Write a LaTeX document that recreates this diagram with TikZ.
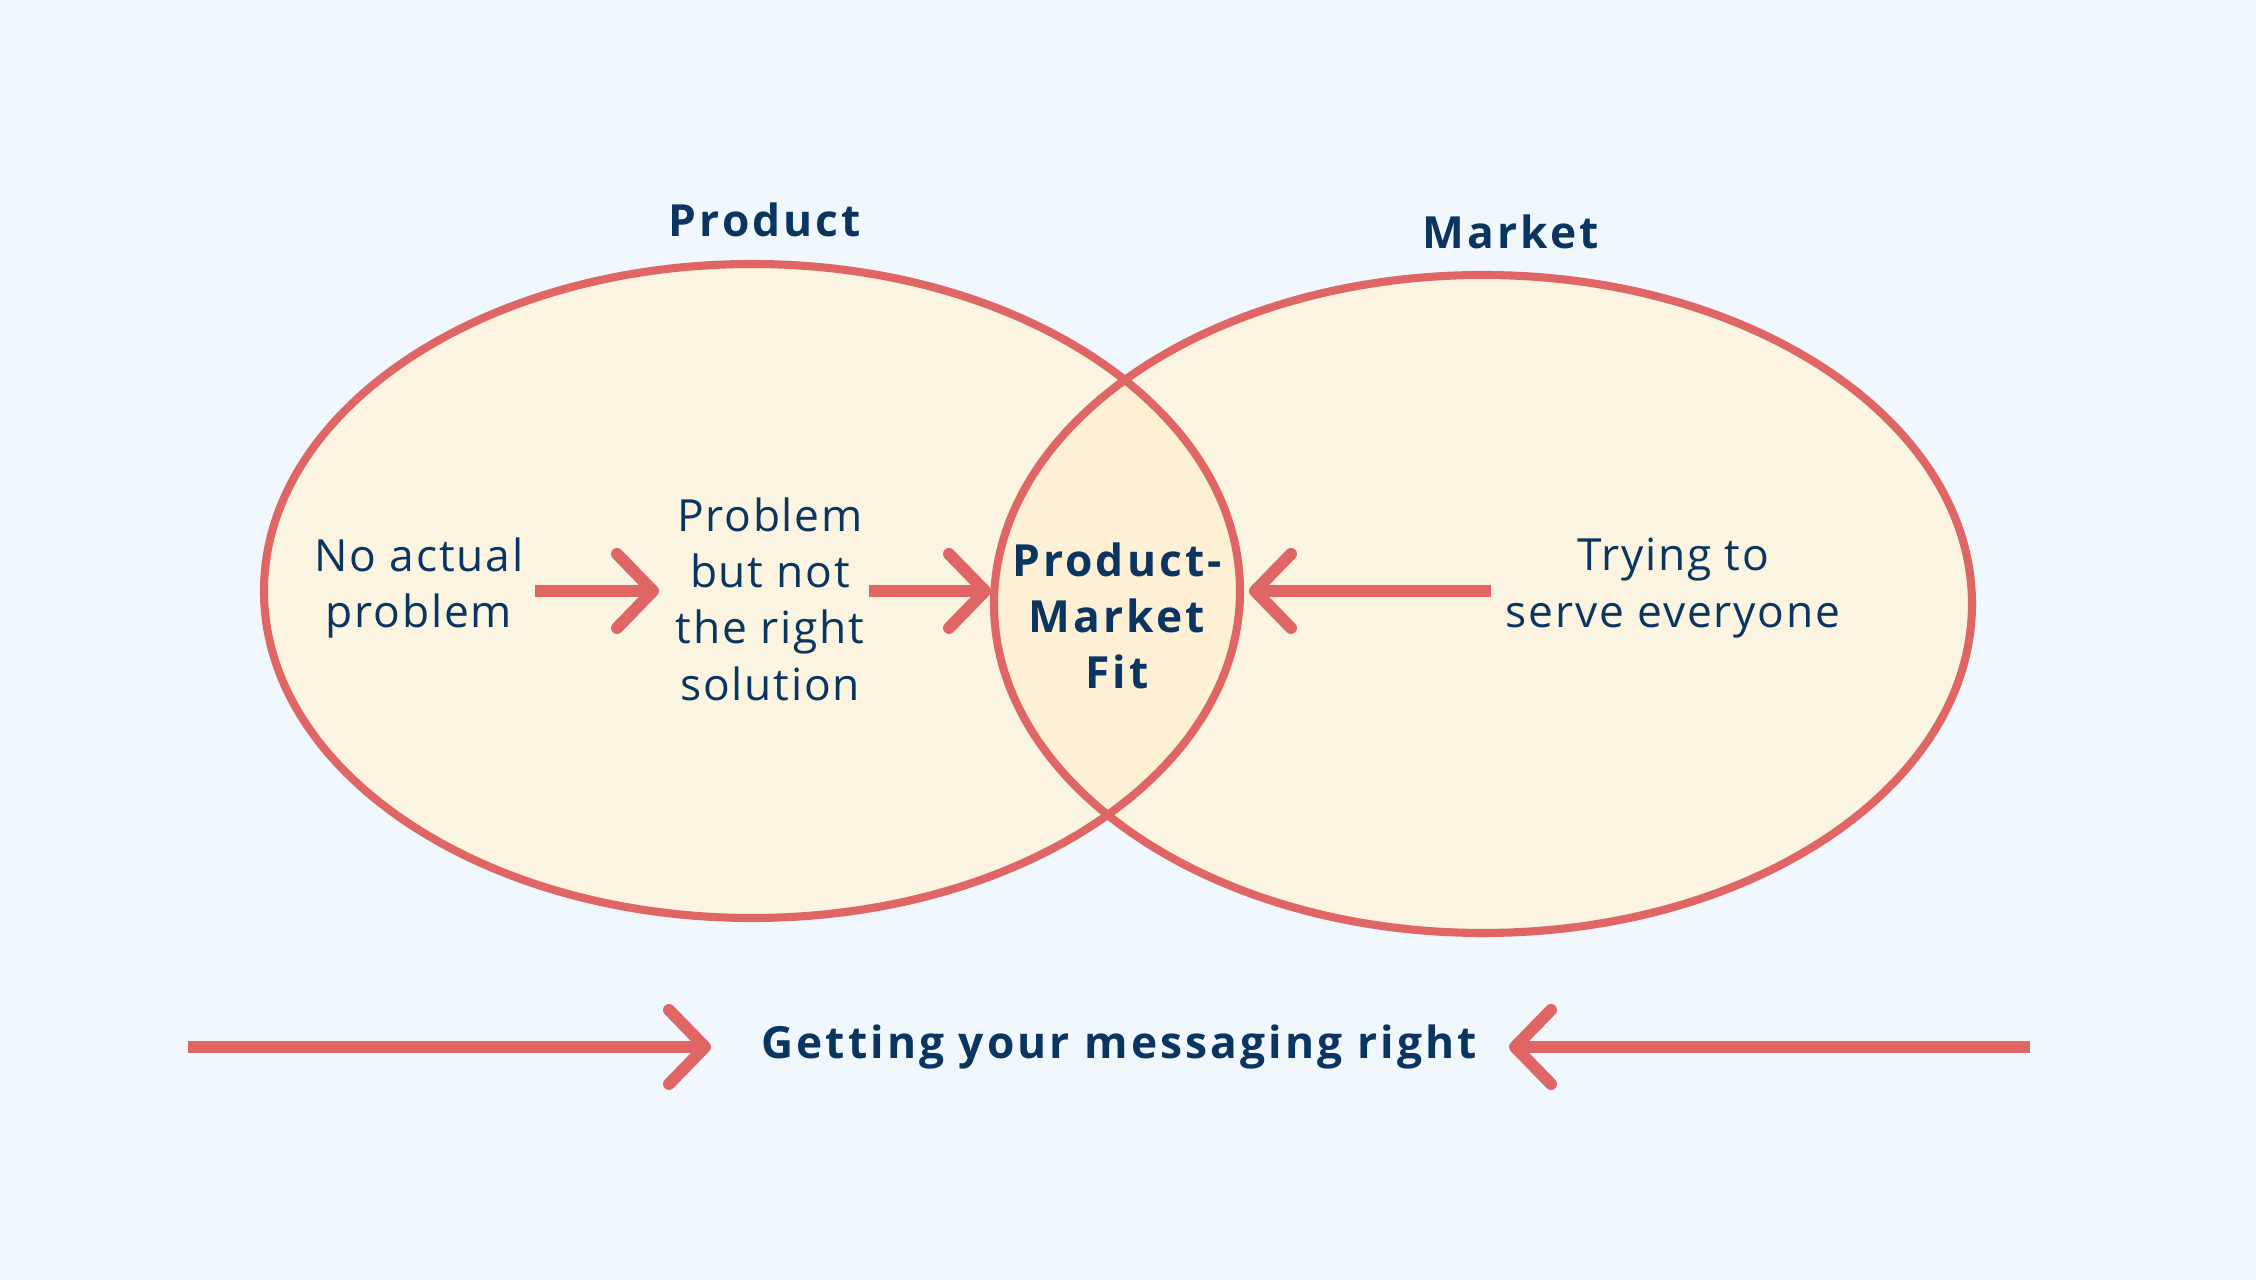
\documentclass[tikz,border=0pt]{standalone}
\usepackage{fontspec}
\setmainfont{Open Sans}[LetterSpace=4, BoldFeatures={LetterSpace=7}]
\usetikzlibrary{arrows.meta}
\definecolor{bgblue}{HTML}{F0F7FD}
\definecolor{cream}{HTML}{FAF4E0}
\definecolor{fitcream}{HTML}{FDF0D4}
\definecolor{ringred}{HTML}{E06666}
\definecolor{inkblue}{HTML}{0B3561}
\tikzset{
  ring/.style={draw=ringred, line width=2.3pt},
  txt/.style={text=inkblue, align=center, inner sep=0pt, font=\fontsize{12.6}{16}\selectfont},
  boldtxt/.style={txt, font=\fontsize{12.6}{16}\selectfont\bfseries},
  push/.style={draw=ringred, line width=3.4pt, -{Straight Barb[length=3.6mm, width=7.4mm, round]}}
}
\begin{document}
\begin{tikzpicture}[x=0.01cm, y=-0.01cm]
      \fill[bgblue] (0,0) rectangle (2256,1280);
      % the two sets and their overlap
      \fill[cream] (752,591) ellipse [x radius=488, y radius=327];
      \fill[cream] (1483,604) ellipse [x radius=489, y radius=329];
      \begin{scope}
        \clip (752,591) ellipse [x radius=488, y radius=327];
        \fill[fitcream] (1483,604) ellipse [x radius=489, y radius=329];
      \end{scope}
      \draw[ring] (752,591) ellipse [x radius=488, y radius=327];
      \draw[ring] (1483,604) ellipse [x radius=489, y radius=329];
      \draw
        (765,220) node[boldtxt] (prod){Product}
        (1511,232) node[boldtxt] (mkt){Market}
        (419,588) node[txt] (noprob){No actual\\problem}
        (770,599) node[txt] (wrongsol){Problem\\but not\\the right\\solution}
        (1117,616) node[boldtxt] (fit){Product-\\Market\\Fit}
        (1673,588) node[txt] (everyone){Trying to\\serve everyone}
        (1119,1047) node[boldtxt] (msg){Getting your messaging right};
      \coordinate (a1s) at (535,591);
      \coordinate (a1e) at (659,591);
      \coordinate (a2s) at (869,591);
      \coordinate (a2e) at (991,591);
      \coordinate (a3s) at (1491,591);
      \coordinate (a3e) at (1249,591);
      \coordinate (b1s) at (188,1047);
      \coordinate (b1e) at (711,1047);
      \coordinate (b2s) at (2030,1047);
      \coordinate (b2e) at (1509,1047);
      \begin{scope}[push]
        \draw (a1s) to (a1e);
        \draw (a2s) to (a2e);
        \draw (a3s) to (a3e);
        \draw (b1s) to (b1e);
        \draw (b2s) to (b2e);
      \end{scope}
    \end{tikzpicture}
\end{document}
